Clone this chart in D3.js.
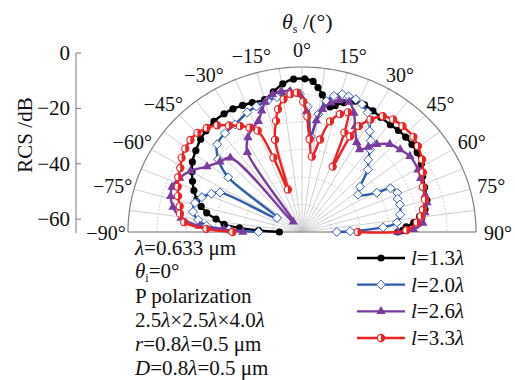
<!DOCTYPE html>
<html>
<head>
<meta charset="utf-8">
<script src="https://cdn.jsdelivr.net/npm/d3@7"></script>
<style>
  body { margin: 0; background: #fff; }
  text { font-family: "Liberation Serif", "Times New Roman", serif; fill: #111; }
</style>
</head>
<body>
<svg id="chart" width="515" height="380"></svg>
<script>
// angle ticks on the rim (deg) and radial axis ticks (dB)
const angleTicks = [-90, -75, -60, -45, -30, -15, 0, 15, 30, 45, 60, 75, 90];
const radialTicks = [0, -20, -40, -60];
const ringLevels = [-55, -45, -35, -25, -15];

// l = 1.3 lambda
const blackAngles = [-90,-88,-86,-84,-81,-78,-75,-72,-68,-64,-60,-56,-51,-46,-42,-37,-32,-28,-24,-20,-15,-11,-7,-3,1,4,6,8,10,12,14,17,21,25,29,33,38,42,46,50,54,59,64,69,75,79,82,85,87,89,90];
const blackDb = [-57.2,-50,-43.4,-38,-35,-31.4,-29,-26.9,-24.8,-23,-21.2,-19.4,-17.9,-16.4,-15.5,-14.6,-14.3,-14.3,-14.6,-14.9,-15.2,-13.1,-10.7,-9.3,-9.3,-10.1,-12.2,-14.6,-17.6,-18.5,-17.6,-15.8,-14,-14,-14.6,-15.2,-15.5,-15.3,-15.3,-15.5,-15.9,-17,-18.7,-19.7,-20.4,-21.8,-24,-26.3,-29,-30.2,-32];

// l = 2.0 lambda
const blueAngles = [-90,-88,-86,-83,-79,-74,-70,-66,-63,-59.5,-52,-47.5,-42.5,-36.5,-30.5,-23.5,-19,-14,-10,-5,-1,2.5,5,7.5,10,12.5,15.5,18,21,24,27.5,30,32.5,35.5,38,41,45,50.5,55,61,62.5,66.5,70,73.5,79.5,84,86.5,89,90];
const blueDb = [-50,-39.8,-32,-28.9,-26.7,-26.6,-28.2,-30.8,-33.3,-55,-32.7,-25.8,-21.7,-20.3,-19.6,-17.6,-16.7,-15.8,-15.2,-14,-14.6,-19.4,-30.2,-21.8,-16.7,-14.3,-13,-13.1,-13.3,-14.1,-16,-18.4,-21.6,-24.2,-26.9,-30.2,-32.9,-39.1,-41.4,-35.5,-30.6,-29.2,-29.9,-29.8,-30.6,-32.1,-37,-48.4,-53];

// l = 2.6 lambda
const purpleAngles = [-90,-88,-86.5,-83,-78.5,-74,-70,-65,-60,-54,-48,-42.5,-39,-33,-28.5,-24.5,-20.5,-17.5,-15,-11.5,-8,-4.5,-1,2,4.5,7,9,12,15,19,22.5,25.5,30,33.5,36.5,39,43.5,48.5,53.5,60.5,64.5,68.5,72.5,76,80.5,85.5,88.5,90];
const purpleDb = [-44.6,-38,-29.6,-23,-19.6,-17.9,-17.3,-18.5,-20.6,-24.5,-26.9,-28.4,-60.2,-30.4,-25.9,-23.6,-22,-18.8,-16.1,-14,-13.3,-13.7,-14.9,-21.2,-30.2,-24.2,-19.8,-17,-15.5,-15,-18.2,-22.5,-27.3,-29,-26.6,-24,-21,-19.8,-18.7,-19,-19.7,-20.2,-20.5,-20.6,-22,-23.2,-26.6,-32];

// l = 3.3 lambda
const redAngles = [-90,-88,-85,-81,-77.5,-73,-69,-65,-61,-57,-53,-49,-45,-41,-37,-33,-29,-25.5,-22.5,-20,-17.5,-15.5,-12.5,-10.5,-7.5,-4.5,-2,0.5,2.5,4.5,7,10.5,13.5,17,20,22,24,25.5,27,30,33.5,37.5,42,48,52,57.5,62.5,68.5,74.5,79,82,85,89,90];
const redDb = [-41,-32,-24.2,-22.4,-21.8,-20.3,-19.1,-17.9,-17,-15.5,-14.6,-14,-14,-14.9,-16.4,-18.8,-20.9,-23,-25.1,-36.2,-48.8,-30.2,-23.6,-19.6,-16.3,-14.7,-14.3,-17.6,-23,-31.2,-37.4,-30.8,-23.6,-20.2,-18.7,-26,-39,-26.5,-21.8,-17.8,-14.5,-13.4,-13.2,-13.3,-14.3,-15.9,-18,-20.2,-21,-22.5,-23.6,-25.2,-29,-45.8];

const legendLabels = ["1.3", "2.0", "2.6", "3.3"];

const series = [
  { angles: blackAngles, db: blackDb, color: "#000000", marker: "dot" },
  { angles: blueAngles, db: blueDb, color: "#2f5bb0", marker: "diamond" },
  { angles: purpleAngles, db: purpleDb, color: "#7a3c9e", marker: "triangle" },
  { angles: redAngles, db: redDb, color: "#ee2222", marker: "half" }
];

const svg = d3.select("#chart");
const cx = 302, cy = 232, rx = 174, ry = 165;

const rScale = d3.scaleLinear().domain([-65, -5]).range([0, 1]).clamp(true);
const aScale = d3.scaleLinear().domain([-90, 90]).range([-Math.PI / 2, Math.PI / 2]);
const px = (a, v) => cx + rx * rScale(v) * Math.sin(aScale(a));
const py = (a, v) => cy - ry * rScale(v) * Math.cos(aScale(a));

// grid
const grid = svg.append("g");
const spokes = d3.range(-90, 90.1, 7.5);
grid.selectAll("line.spoke").data(spokes).enter().append("line")
  .attr("x1", cx).attr("y1", cy)
  .attr("x2", d => px(d, -5)).attr("y2", d => py(d, -5))
  .attr("stroke", "#c4c4c4").attr("stroke-width", 0.8);

const arcPath = v => {
  const pts = d3.range(-90, 90.5, 1).map(a => [px(a, v), py(a, v)]);
  return d3.line()(pts);
};
grid.selectAll("path.ring").data(ringLevels).enter().append("path")
  .attr("d", arcPath).attr("fill", "none")
  .attr("stroke", "#b8b8b8").attr("stroke-width", 0.8).attr("stroke-dasharray", "1.5,2");
grid.append("path").attr("d", arcPath(-5)).attr("fill", "none")
  .attr("stroke", "#808080").attr("stroke-width", 1.2);
grid.append("line").attr("x1", px(-90, -5)).attr("x2", px(90, -5))
  .attr("y1", cy).attr("y2", cy).attr("stroke", "#808080").attr("stroke-width", 1.2);

// angle labels
svg.append("g").selectAll("text").data(angleTicks).enter().append("text")
  .attr("x", d => cx + (rx + 22) * Math.sin(aScale(d)))
  .attr("y", d => cy - (ry + 18) * Math.cos(aScale(d)) + 8)
  .attr("text-anchor", "middle").attr("font-size", 20)
  .text(d => (d < 0 ? "\u2212" + (-d) : d) + "\u00b0");

// series
const line = d3.line().curve(d3.curveCatmullRom.alpha(0.5));
series.forEach(s => {
  const pts = s.angles.map((a, i) => [px(a, s.db[i]), py(a, s.db[i])]);
  svg.append("path").attr("d", line(pts)).attr("fill", "none")
    .attr("stroke", s.color).attr("stroke-width", 2.4).attr("stroke-linejoin", "round");
  const g = svg.append("g");
  pts.forEach(p => drawMarker(g, s, p[0], p[1]));
});

function drawMarker(g, s, x, y) {
  if (s.marker === "dot") {
    g.append("circle").attr("cx", x).attr("cy", y).attr("r", 3.6).attr("fill", s.color);
  } else if (s.marker === "diamond") {
    g.append("path").attr("transform", `translate(${x},${y})`)
      .attr("d", "M0,-4.5L4.5,0L0,4.5L-4.5,0Z")
      .attr("fill", "#fff").attr("stroke", s.color).attr("stroke-width", 1);
  } else if (s.marker === "triangle") {
    g.append("path").attr("transform", `translate(${x},${y})`)
      .attr("d", d3.symbol(d3.symbolTriangle, 38)()).attr("fill", s.color);
  } else {
    g.append("circle").attr("cx", x).attr("cy", y).attr("r", 3.6)
      .attr("fill", "#fff").attr("stroke", s.color).attr("stroke-width", 1.1);
    g.append("path").attr("transform", `translate(${x},${y})`)
      .attr("d", "M0,-3.6A3.6,3.6 0 0,1 0,3.6Z").attr("fill", s.color);
  }
}

// left radial axis
const yAxis = d3.scaleLinear().domain([-65, 0]).range([cy + 1, 53]);
const ax = svg.append("g");
ax.append("line").attr("x1", 76).attr("x2", 76).attr("y1", yAxis(0)).attr("y2", yAxis(-65))
  .attr("stroke", "#777").attr("stroke-width", 1);
ax.selectAll("line.tick").data(radialTicks).enter().append("line")
  .attr("x1", 76).attr("x2", 81).attr("y1", d => yAxis(d)).attr("y2", d => yAxis(d))
  .attr("stroke", "#777");
ax.selectAll("text").data(radialTicks).enter().append("text")
  .attr("x", 70).attr("y", d => yAxis(d) + 7).attr("text-anchor", "end").attr("font-size", 21)
  .text(d => d < 0 ? "\u2212" + (-d) : d);
svg.append("text").attr("transform", "translate(32,135) rotate(-90)")
  .attr("text-anchor", "middle").attr("font-size", 21).text("RCS /dB");

// title
const title = svg.append("text").attr("x", 282).attr("y", 29).attr("font-size", 22);
title.append("tspan").attr("font-style", "italic").text("\u03b8");
title.append("tspan").attr("font-size", 12).attr("dy", 4).text("s");
title.append("tspan").attr("dy", -4).text(" /(\u00b0)");

// parameter text block
const info = svg.append("g").attr("font-size", 21);
const t1 = info.append("text").attr("x", 135).attr("y", 255);
t1.append("tspan").attr("font-style", "italic").text("\u03bb");
t1.append("tspan").text("=0.633 \u03bcm");
const t2 = info.append("text").attr("x", 135).attr("y", 278);
t2.append("tspan").attr("font-style", "italic").text("\u03b8");
t2.append("tspan").attr("font-size", 12).attr("dy", 4).text("i");
t2.append("tspan").attr("dy", -4).text("=0\u00b0");
info.append("text").attr("x", 135).attr("y", 303).text("P polarization");
const t4 = info.append("text").attr("x", 135).attr("y", 327);
["2.5", "\u00d72.5", "\u00d74.0"].forEach(p => {
  t4.append("tspan").text(p);
  t4.append("tspan").attr("font-style", "italic").text("\u03bb");
});
const t5 = info.append("text").attr("x", 135).attr("y", 351);
t5.append("tspan").attr("font-style", "italic").text("r");
t5.append("tspan").text("=0.8");
t5.append("tspan").attr("font-style", "italic").text("\u03bb");
t5.append("tspan").text("=0.5 \u03bcm");
const t6 = info.append("text").attr("x", 135).attr("y", 375);
t6.append("tspan").attr("font-style", "italic").text("D");
t6.append("tspan").text("=0.8");
t6.append("tspan").attr("font-style", "italic").text("\u03bb");
t6.append("tspan").text("=0.5 \u03bcm");

// legend
const legendY = d3.scalePoint().domain(legendLabels).range([258, 338]);
series.forEach((s, i) => {
  const y = legendY(legendLabels[i]);
  const g = svg.append("g");
  g.append("line").attr("x1", 357).attr("x2", 405).attr("y1", y).attr("y2", y)
    .attr("stroke", s.color).attr("stroke-width", 2.4);
  drawMarker(g, s, 381, y);
  const t = g.append("text").attr("x", 411).attr("y", y + 7).attr("font-size", 21);
  t.append("tspan").attr("font-style", "italic").text("l");
  t.append("tspan").text("=" + legendLabels[i]);
  t.append("tspan").attr("font-style", "italic").text("\u03bb");
});
</script>
</body>
</html>
